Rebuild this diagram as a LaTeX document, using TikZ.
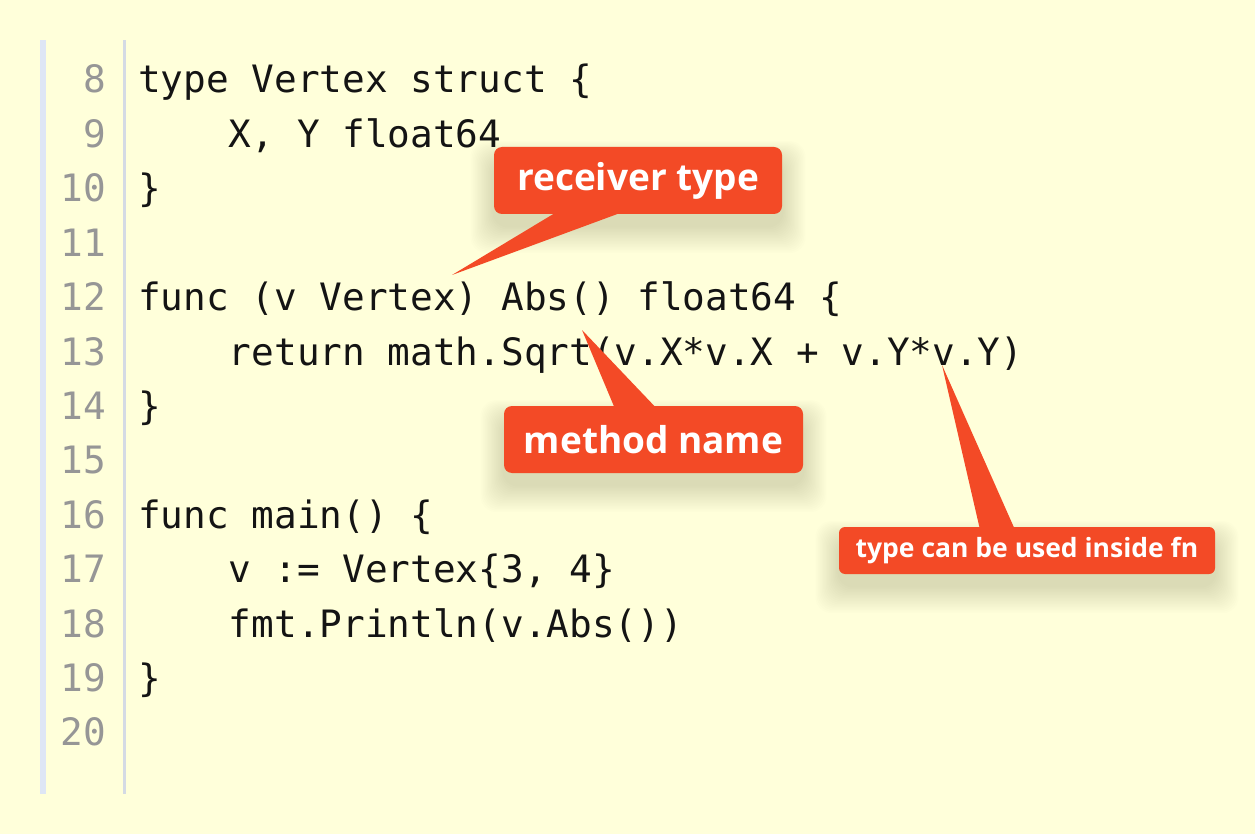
\documentclass[tikz,border=0pt]{standalone}
\usepackage{fontspec}
\setmonofont{DejaVu Sans Mono}
\newfontfamily\calloutfont{Open Sans}
\pgfdeclarelayer{backlayer}
\pgfdeclarelayer{shadowlayer}
\pgfsetlayers{backlayer,shadowlayer,main}
\definecolor{bgyellow}{RGB}{255,255,218}
\definecolor{barblue}{RGB}{222,230,245}
\definecolor{sepgray}{RGB}{212,218,228}
\definecolor{numgray}{RGB}{150,150,150}
\definecolor{codeblack}{RGB}{20,20,20}
\definecolor{callred}{RGB}{243,74,38}
\definecolor{shadowcol}{RGB}{90,90,20}
\tikzset{
  codeline/.style={anchor=base west, inner sep=0pt, text=codeblack, font=\fontsize{37.7}{40}\selectfont\ttfamily},
  numline/.style={anchor=base east, inner sep=0pt, text=numgray, font=\fontsize{37.7}{40}\selectfont\ttfamily},
  callbox/.style={fill=callred, rounded corners=8pt, inner sep=0pt, text=white},
  bigcall/.style={callbox, font=\fontsize{37}{40}\selectfont\calloutfont\bfseries},
  smallcall/.style={callbox, rounded corners=6pt, font=\fontsize{26.5}{30}\selectfont\calloutfont\bfseries},
  tail/.style={fill=callred},
  shadowlayerstyle/.style={fill=shadowcol, opacity=0.009, rounded corners=16pt}
}
\newcommand\softshadow[1]{%
  \foreach \k in {1,...,18}{%
    \fill[shadowlayerstyle]
      ([xshift={-1.3pt*\k}, yshift={-12pt-1.5pt*\k}]#1.south west) rectangle
      ([xshift={1.3pt*\k}, yshift={-14pt+1.1pt*\k}]#1.north east);
  }%
}
\begin{document}
\begin{tikzpicture}[x=1pt,y=-1pt]
\begin{pgfonlayer}{backlayer}
\fill[bgyellow] (0,0) rectangle (1255,834);
\end{pgfonlayer}
\useasboundingbox (0,0) rectangle (1255,834);
\fill[barblue] (40,40) rectangle (46,794);
\fill[sepgray] (122.5,40) rectangle (125.5,794);
% line numbers
\foreach \n [count=\i from 0] in {8,...,20} {
  \node[numline] (n\n) at (106,93+54.4*\i) {\n};
}
% code
\node[codeline] (l8)  at (138,93)        {type Vertex struct \{};
\node[codeline] (l9)  at (138,147.4)     {\ \ \ \ X, Y float64};
\node[codeline] (l10) at (138,201.8)     {\}};
\node[codeline] (l12) at (138,310.6)     {func (v Vertex) Abs() float64 \{};
\node[codeline] (l13) at (138,365)       {\ \ \ \ return math.Sqrt(v.X*v.X + v.Y*v.Y)};
\node[codeline] (l14) at (138,419.4)     {\}};
\node[codeline] (l16) at (138,528.2)     {func main() \{};
\node[codeline] (l17) at (138,582.6)     {\ \ \ \ v := Vertex\{3, 4\}};
\node[codeline] (l18) at (138,637)       {\ \ \ \ fmt.Println(v.Abs())};
\node[codeline] (l19) at (138,691.4)     {\}};
% callouts
\node[bigcall, minimum width=288pt, minimum height=67pt] (rt) at (638,180.5) {receiver type};
\node[bigcall, minimum width=299pt, minimum height=67pt] (mn) at (653.5,439.5) {method name};
\node[smallcall, minimum width=376pt, minimum height=47pt] (tc) at (1027,550.5) {type can be used inside fn};
\begin{pgfonlayer}{shadowlayer}
\softshadow{rt}
\softshadow{mn}
\softshadow{tc}
\end{pgfonlayer}
% tails
\coordinate (rttip) at (452,275);
\coordinate (mntip) at (582,330);
\coordinate (tctip) at (942,365);
\fill[tail] ([xshift=-80pt,yshift=3pt]rt.south) -- ([xshift=-13pt,yshift=3pt]rt.south) -- (rttip) -- cycle;
\fill[tail] ([xshift=-38.5pt,yshift=-3pt]mn.north) -- ([xshift=3.5pt,yshift=-3pt]mn.north) -- (mntip) -- cycle;
\fill[tail] ([xshift=-47pt,yshift=-3pt]tc.north) -- ([xshift=-12pt,yshift=-3pt]tc.north) -- (tctip) -- cycle;
\end{tikzpicture}
\end{document}
